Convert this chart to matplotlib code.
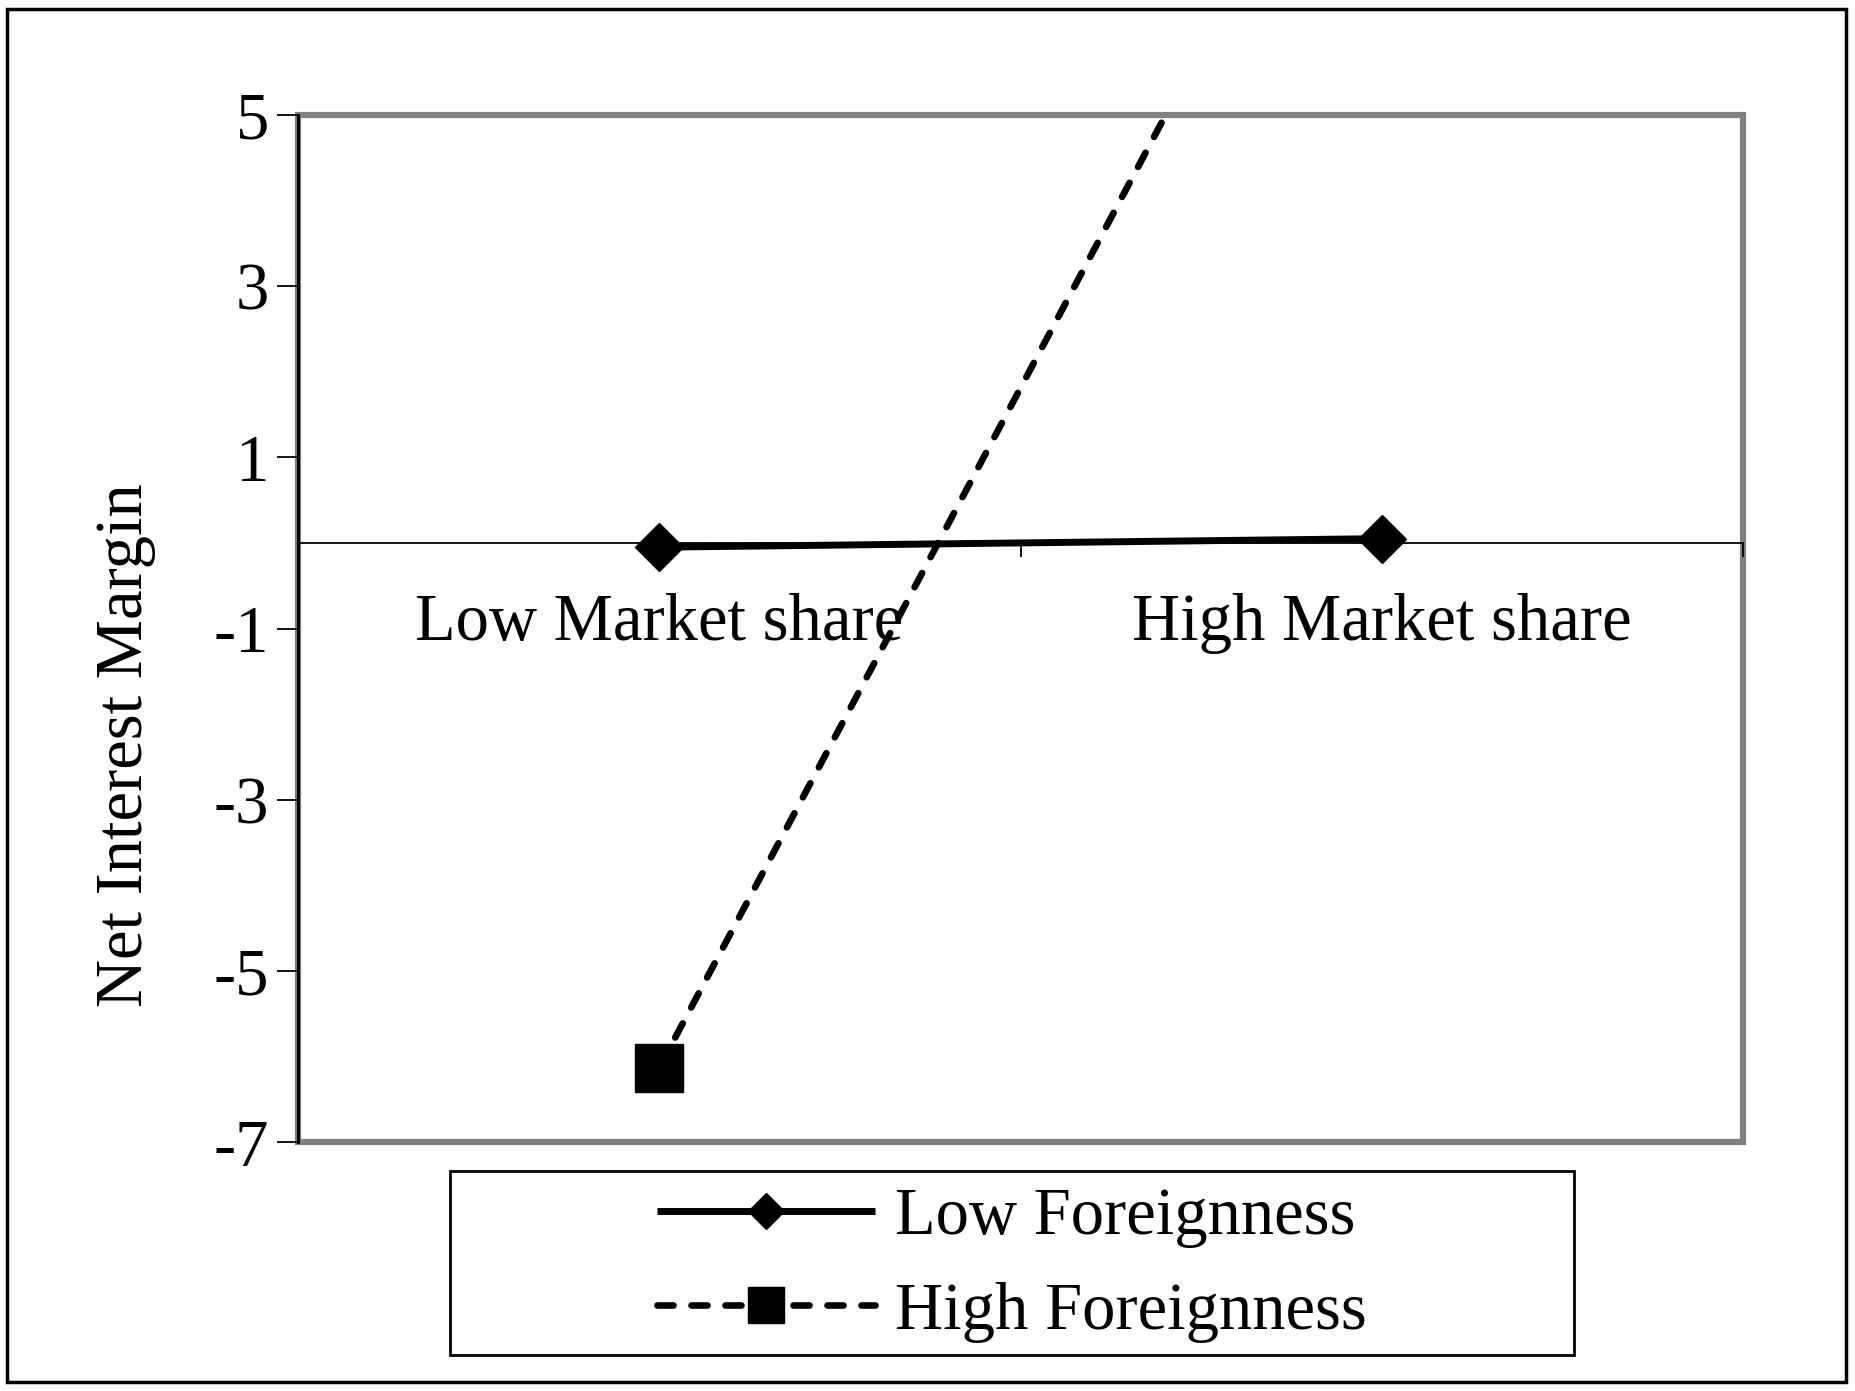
import matplotlib
matplotlib.use("Agg")
import matplotlib.pyplot as plt
from matplotlib.patches import Rectangle
from matplotlib.ticker import FixedLocator, NullFormatter, FixedFormatter

plt.rcParams['font.family'] = ['Liberation Serif', 'DejaVu Serif']

categories = ["Low Market share", "High Market share"]
low_foreignness = [-0.05, 0.05]
high_foreignness = [-6.13, 9.75]
series_names = ["Low Foreignness", "High Foreignness"]
y_ticks = [-7, -5, -3, -1, 1, 3, 5]
y_label = "Net Interest Margin"

W, H, DPI = 1855, 1391, 100
fig = plt.figure(figsize=(W / DPI, H / DPI), dpi=DPI)
ax = fig.add_axes([298 / W, 1 - 1142 / H, (1743 - 298) / W, (1142 - 115) / H])

xpos = [0.5, 1.5]
FS = 48

l1, = ax.plot(xpos, low_foreignness, color='black', lw=5, marker='D', markersize=24,
              solid_capstyle='butt', label=series_names[0], zorder=4)
l2, = ax.plot(xpos, high_foreignness, color='black', lw=4.8, marker='s', markersize=34,
              linestyle=(0, (2.4, 2.7)), dash_capstyle='round', label=series_names[1], zorder=4)

ax.set_xlim(0, 2)
ax.set_ylim(-7, 5)

# gray frame
for s in ax.spines.values():
    s.set_visible(False)
ax.add_patch(Rectangle((0, 0), 1, 1, transform=ax.transAxes, fill=False,
                       edgecolor='#808080', lw=4.5, zorder=1, clip_on=False))
ax.spines['left'].set_visible(True)
ax.spines['left'].set_color('black')
ax.spines['left'].set_linewidth(2.2)
ax.spines['left'].set_zorder(2)
ax.spines['bottom'].set_visible(True)
ax.spines['bottom'].set_position(('data', 0))
ax.spines['bottom'].set_color('black')
ax.spines['bottom'].set_linewidth(1.3)

ax.set_yticks(y_ticks)
ax.set_yticklabels([str(v) for v in y_ticks], fontsize=FS)
ax.tick_params(axis='y', direction='out', length=15, width=1.3, pad=6)

ax.xaxis.set_major_locator(FixedLocator([0, 1, 2]))
ax.xaxis.set_major_formatter(NullFormatter())
ax.xaxis.set_minor_locator(FixedLocator(xpos))
ax.xaxis.set_minor_formatter(FixedFormatter(categories))
ax.tick_params(axis='x', which='major', direction='out', length=10, width=1.3)
ax.tick_params(axis='x', which='minor', length=0, pad=36, labelsize=FS)

ax.set_ylabel(y_label, fontsize=FS)
ax.yaxis.set_label_coords(-0.098, 0.386)

# legend
fig.legend(handles=[l1, l2], loc='center', bbox_to_anchor=(1012 / W, 1 - 1265 / H),
           frameon=False, fontsize=FS, handlelength=3.27, handletextpad=0.3,
           markerscale=0.78, labelspacing=0.5)
fig.patches.append(Rectangle((450 / W, 1 - 1355 / H), (1574 - 450) / W, (1355 - 1171) / H,
                             transform=fig.transFigure, fill=False, edgecolor='black', lw=2))
# outer border
fig.patches.append(Rectangle((7 / W, 1 - 1382 / H), (1846 - 7) / W, (1382 - 9) / H,
                             transform=fig.transFigure, fill=False, edgecolor='black', lw=2.5))

fig.savefig("out.png", dpi=DPI)
